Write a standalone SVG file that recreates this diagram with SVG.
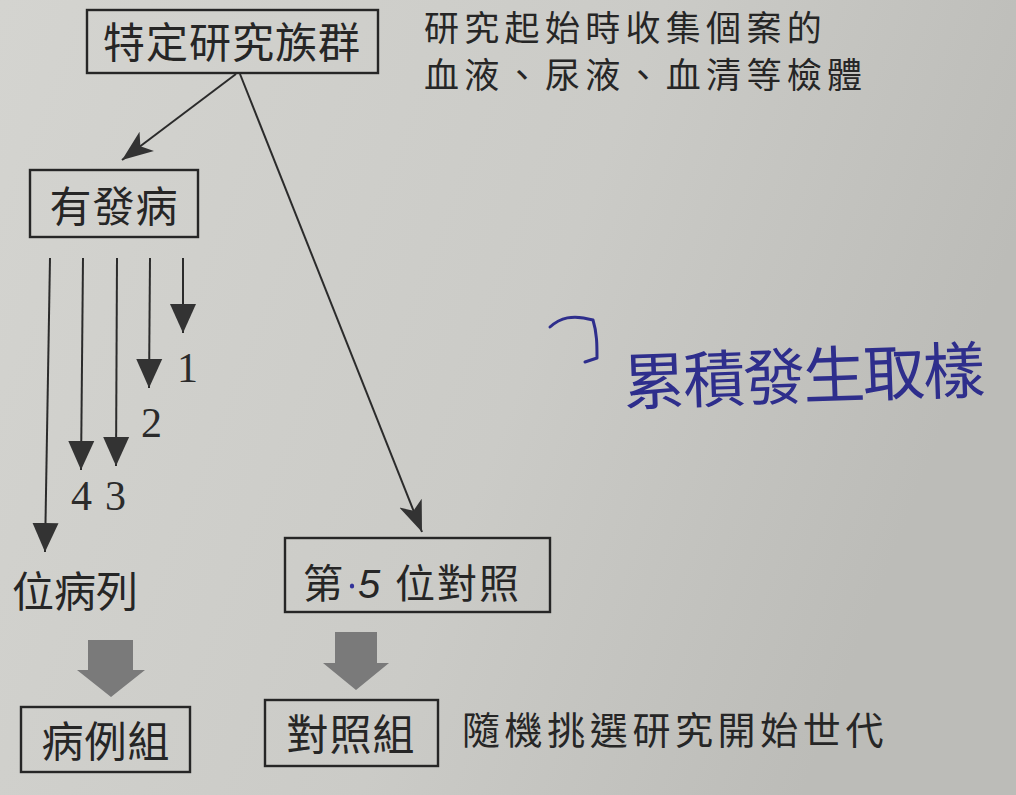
<svg xmlns="http://www.w3.org/2000/svg" width="1016" height="795" viewBox="0 0 1016 795">
<defs>
<linearGradient id="paper" x1="0" y1="0" x2="1" y2="0.3">
<stop offset="0" stop-color="#d4d4d0"/>
<stop offset="0.6" stop-color="#cbcbc7"/>
<stop offset="1" stop-color="#bcbcb8"/>
</linearGradient>
<marker id="tri" markerUnits="userSpaceOnUse" markerWidth="30" markerHeight="28" refX="29" refY="13" orient="auto" viewBox="0 0 30 26">
<path d="M0,0 L29,13 L0,26 z" fill="#333"/>
</marker>
<marker id="notch" markerUnits="userSpaceOnUse" markerWidth="32" markerHeight="26" refX="31" refY="12" orient="auto" viewBox="0 0 32 24">
<path d="M0,0 L31,12 L0,24 L8,12 z" fill="#333"/>
</marker>
<style>
.box{fill:none;stroke:#262626;stroke-width:2.4}
.t{font-family:"Noto Sans CJK TC","Noto Sans CJK SC",sans-serif;fill:#262626}
.num{font-family:"Liberation Serif",serif;fill:#2b2b2b;font-size:42px}
.ln{stroke:#2b2b2b;stroke-width:2;fill:none}
.blk{fill:#7a7a7a}
.hw{fill:none;stroke:#2e2e8c;stroke-width:3;stroke-linecap:round;stroke-linejoin:round}
</style>
</defs>
<rect width="1016" height="795" fill="url(#paper)"/>

<g id="connectors">
<line class="ln" x1="236" y1="74" x2="122" y2="160" marker-end="url(#notch)"/>
<line class="ln" x1="240" y1="74" x2="422" y2="532" marker-end="url(#notch)"/>
<line class="ln" x1="50" y1="258" x2="45" y2="552" marker-end="url(#tri)"/>
<line class="ln" x1="83" y1="258" x2="81" y2="470" marker-end="url(#tri)"/>
<line class="ln" x1="117" y1="258" x2="116" y2="466" marker-end="url(#tri)"/>
<line class="ln" x1="150" y1="258" x2="149" y2="388" marker-end="url(#tri)"/>
<line class="ln" x1="183" y1="258" x2="183" y2="333" marker-end="url(#tri)"/>
<path class="blk" d="M88,640 L133,640 L133,670 L145,670 L111,697 L77,670 L88,670 z"/>
<path class="blk" d="M335,632 L377,632 L377,663 L389,663 L356,690 L323,663 L335,663 z"/>
</g>

<g id="n-cohort">
<rect class="box" x="87" y="10" width="291" height="63"/>
<text class="t" x="232" y="58" font-size="42" text-anchor="middle" letter-spacing="1">特定研究族群</text>
</g>

<g id="n-note1">
<text class="t" x="424" y="41" font-size="35" letter-spacing="5.3">研究起始時收集個案的</text>
<text class="t" x="424" y="88" font-size="35" letter-spacing="5.3">血液、尿液、血清等檢體</text>
</g>

<g id="n-disease">
<rect class="box" x="30" y="170" width="168" height="67"/>
<text class="t" x="114" y="222" font-size="42" text-anchor="middle" letter-spacing="1">有發病</text>
</g>

<g id="n-numbers">
<text class="num" x="177" y="382">1</text>
<text class="num" x="141" y="437">2</text>
<text class="num" x="71" y="510">4</text>
<text class="num" x="105" y="510">3</text>
</g>

<g id="n-cases">
<text class="t" x="12" y="607" font-size="42">位病列</text>
</g>

<g id="n-control5">
<rect class="box" x="285" y="538" width="265" height="74"/>
<text class="t" x="303" y="598" font-size="40">第</text>
<ellipse cx="352" cy="586" rx="2.2" ry="2.6" fill="#33339a"/>
<text x="358" y="598" font-size="40" font-style="italic" font-family="Liberation Sans, sans-serif" fill="#262626">5</text>
<text class="t" x="395" y="598" font-size="40" letter-spacing="2">位對照</text>
</g>

<g id="n-casegroup">
<rect class="box" x="21" y="707" width="169" height="65"/>
<text class="t" x="106" y="757" font-size="42" text-anchor="middle" letter-spacing="1">病例組</text>
</g>

<g id="n-controlgroup">
<rect class="box" x="265" y="700" width="173" height="66"/>
<text class="t" x="351" y="750" font-size="42" text-anchor="middle" letter-spacing="1">對照組</text>
</g>

<g id="n-note2">
<text class="t" x="462" y="744" font-size="38" letter-spacing="4.6">隨機挑選研究開始世代</text>
</g>

<g id="n-handwriting">
<path class="hw" d="M550,327 C560,318 572,314 593,320 C597,333 597,345 597,358 L585,362"/>
<text x="624" y="405" font-size="62" font-family="Noto Sans CJK TC, sans-serif" fill="#2e2e8c" font-weight="400" transform="rotate(-2 624 405)" letter-spacing="-2">累積發生取樣</text>
</g>
</svg>
